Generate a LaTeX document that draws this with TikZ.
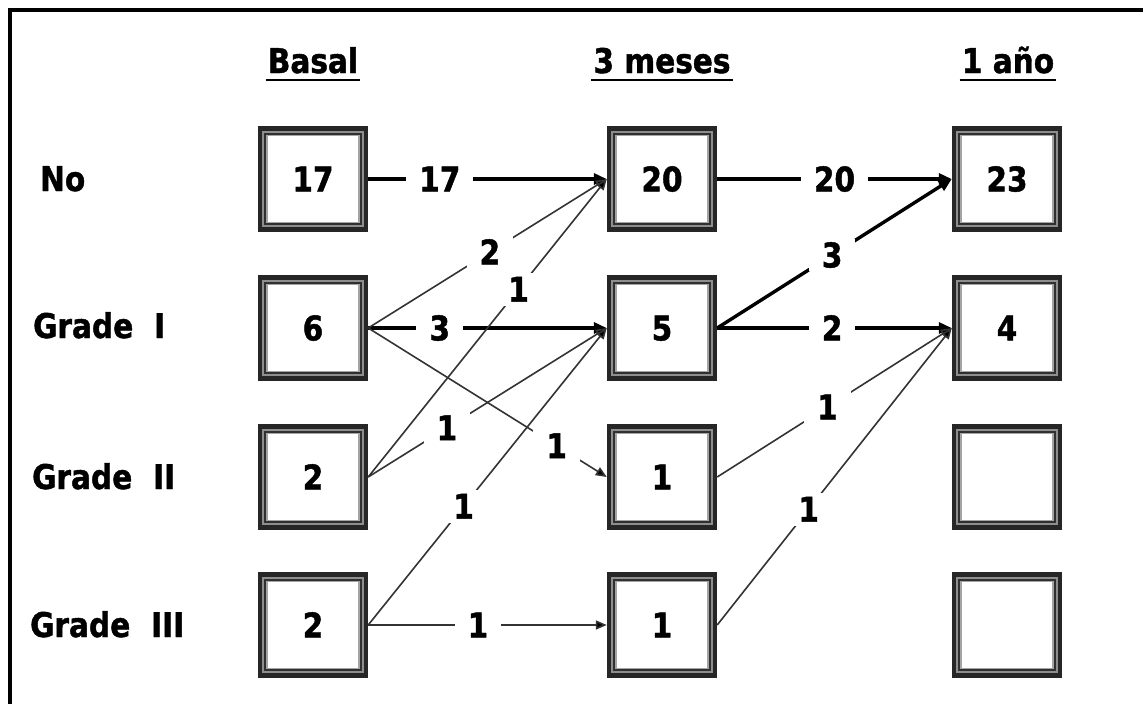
\documentclass[tikz,border=0pt]{standalone}
\usepackage{fontspec}
\setmainfont{DejaVu Sans}[BoldFont={DejaVu Sans Bold}, BoldFeatures={FakeStretch=0.87, FakeBold=1.3}, FakeStretch=0.87]
\usetikzlibrary{arrows.meta}
\definecolor{thinc}{HTML}{333333}
\definecolor{ringA}{HTML}{262626}
\definecolor{ringB}{HTML}{8e8e8e}
\definecolor{ringC}{HTML}{303030}
\definecolor{ringD}{HTML}{a4a4a4}
\begin{document}
\begin{tikzpicture}[x=1pt,y=-1pt,
  txt/.style={font=\fontsize{34}{40}\selectfont\bfseries, inner sep=0pt, text height=24.8pt, text depth=0pt},
  cell/.style={txt, minimum width=110pt, minimum height=105pt},
  lbl/.style={txt, fill=white, inner xsep=13pt, inner ysep=4pt},
  hd/.style={txt, anchor=base},
  rowlbl/.style={txt, anchor=base west},
  thickarr/.style={line width=3.4pt, -{Triangle[length=13pt,width=11pt]}},
  thinarr/.style={line width=1.6pt, draw=thinc, -{Triangle[length=11pt,width=9pt,fill=black]}}
]
\useasboundingbox (0,0) rectangle (1143,704);
\draw[line width=3.2pt, line join=miter] (10,704) -- (10,10) -- (1143,10);

% headers
\node[hd] (hb) at (313,73) {Basal};
\node[hd] (hm) at (662,73) {3 meses};
\node[hd] (ha) at (1008,73) {1 año};
\foreach \h in {hb,hm,ha}
  \draw[line width=2.4pt] ([shift={(-2,7)}]\h.base west) -- ([shift={(2,7)}]\h.base east);

% row labels
\node[rowlbl] (rno) at (40,191) {No};
\node[rowlbl] (rg1) at (33,338) {Grade\hspace{21pt}I};
\node[rowlbl] (rg2) at (32,489) {Grade\hspace{21pt}II};
\node[rowlbl] (rg3) at (30,637) {Grade\hspace{21pt}III};

% boxes
\node[cell] (b17) at (313,179) {17};
\node[cell] (b6)  at (313,328) {6};
\node[cell] (b2a) at (313,477) {2};
\node[cell] (b2b) at (313,625) {2};
\node[cell] (m20) at (662,179) {20};
\node[cell] (m5)  at (662,328) {5};
\node[cell] (m1a) at (662,477) {1};
\node[cell] (m1b) at (662,625) {1};
\node[cell] (y23) at (1007,179) {23};
\node[cell] (y4)  at (1007,328) {4};
\node[cell] (y0a) at (1007,477) {};
\node[cell] (y0b) at (1007,625) {};

\foreach \n in {b17,b6,b2a,b2b,m20,m5,m1a,m1b,y23,y4,y0a,y0b} {
  \draw[ringA, line width=4.3pt] ([shift={(2.15,-2.15)}]\n.south west) rectangle ([shift={(-2.15,2.15)}]\n.north east);
  \draw[ringB, line width=2.3pt] ([shift={(5.45,-5.45)}]\n.south west) rectangle ([shift={(-5.45,5.45)}]\n.north east);
  \draw[ringC, line width=1.7pt] ([shift={(7.45,-7.45)}]\n.south west) rectangle ([shift={(-7.45,7.45)}]\n.north east);
  \draw[ringD, line width=1.7pt] ([shift={(9.15,-9.15)}]\n.south west) rectangle ([shift={(-9.15,9.15)}]\n.north east);
}

% thick connectors
\draw[thickarr] (b17.east) -- node[lbl,pos=0.3] {17} (m20.west);
\draw[thickarr] (m20.east) -- node[lbl,pos=0.5] {20} (y23.west);
\draw[thickarr] (b6.east) -- node[lbl,pos=0.3] {3} (m5.west);
\draw[thickarr] (m5.east) -- node[lbl,pos=0.49] {3} (y23.west);
\draw[thickarr] (m5.east) -- node[lbl,pos=0.49] {2} (y4.west);

% thin connectors
\draw[thinarr] (b6.east) -- node[lbl,pos=0.51] {2} (m20.west);
\draw[thinarr] (b2a.east) -- node[lbl,pos=0.63] {1} (m20.west);
\draw[thinarr] (b2a.east) -- node[lbl,pos=0.33] {1} (m5.west);
\draw[thinarr] (b6.east) -- node[lbl,pos=0.79] {1} (m1a.west);
\draw[thinarr] (b2b.east) -- node[lbl,pos=0.40] {1} (m5.west);
\draw[thinarr] (b2b.east) -- node[lbl,pos=0.46] {1} (m1b.west);
\draw[thinarr] (m1a.east) -- node[lbl,pos=0.47] {1} (y4.west);
\draw[thinarr] (m1b.east) -- node[lbl,pos=0.39] {1} (y4.west);
\end{tikzpicture}
\end{document}
